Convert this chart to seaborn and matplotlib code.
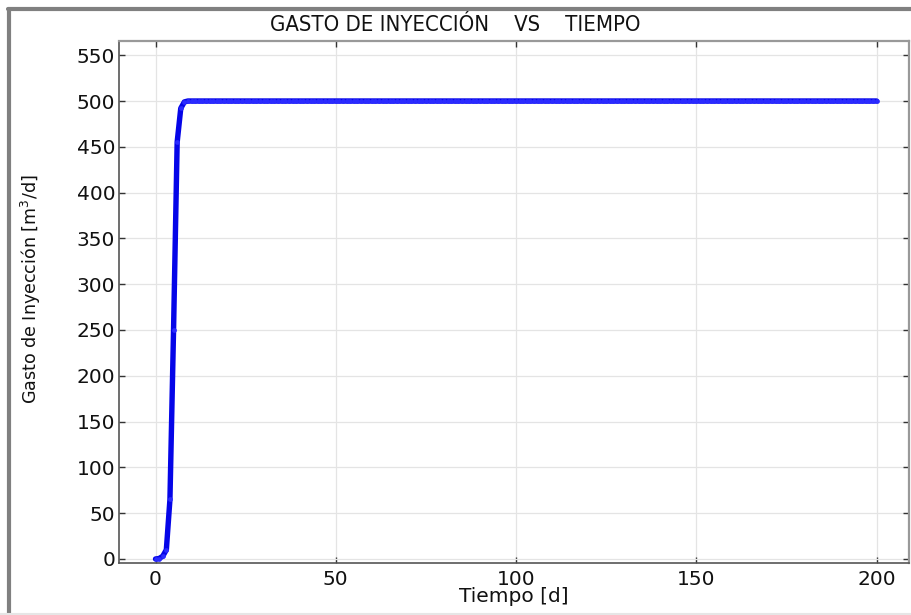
import matplotlib
matplotlib.use("Agg")
import matplotlib.pyplot as plt
from matplotlib.lines import Line2D
import seaborn as sns
import pandas as pd

# Injection rate ramp-up, then constant rate until day 200
ramp_days = [0, 1, 2, 3, 4, 5, 6, 7, 8, 9]
ramp_rate = [0, 0.5, 3, 10, 65, 250, 455, 492, 499, 500]
plateau_days = list(range(10, 201))
plateau_rate = [500] * len(plateau_days)

days = ramp_days + plateau_days
rate = ramp_rate + plateau_rate

x_ticks = [0, 50, 100, 150, 200]
y_ticks = [0, 50, 100, 150, 200, 250, 300, 350, 400, 450, 500, 550]

df = pd.DataFrame({"Tiempo": days, "Gasto": rate})

sns.set_theme(style="whitegrid")
plt.rcParams["font.family"] = ["DejaVu Sans"]

fig = plt.figure(figsize=(9.12, 6.15), dpi=100)
ax = fig.add_axes([0.131, 0.0841, 0.9967 - 0.131, 0.9333 - 0.0841])

sns.lineplot(data=df, x="Tiempo", y="Gasto", ax=ax, color="#0505e8",
             linewidth=3.9, marker="o", markersize=3.4, markeredgewidth=0,
             markerfacecolor="#2a2aff", zorder=3)

ax.set_xlim(-10, 209)
ax.set_ylim(-4.7, 565.5)
ax.set_xticks(x_ticks)
ax.set_yticks(y_ticks)

ax.grid(True, color="#e4e4e4", linewidth=0.9)
ax.tick_params(axis="both", which="both", direction="in", length=4, width=1,
               labelsize=14.5, colors="#333333", labelcolor="#111111",
               top=True, right=True, bottom=True, left=True)
ax.tick_params(axis="x", pad=5)
ax.tick_params(axis="y", pad=3)

for side in ["top", "right"]:
    ax.spines[side].set_color("#999999")
    ax.spines[side].set_linewidth(1.6)
for side in ["bottom", "left"]:
    ax.spines[side].set_color("#555555")
    ax.spines[side].set_linewidth(1.2)

ax.set_xlabel("Tiempo [d]", fontsize=14.5, color="#111111")
ax.set_ylabel("Gasto de Inyección [m$^3$/d]", fontsize=12.6, color="#111111")
ax.xaxis.set_label_coords(0.5, -0.046)
ax.yaxis.set_label_coords(-0.0965, 0.525)

fig.text(0.499, 0.959, "GASTO DE INYECCIÓN    VS    TIEMPO", ha="center",
         va="center", fontsize=15.8, fontstretch="condensed", color="#111111")

# Window frame along the left and top edges
fig.add_artist(Line2D([9.5 / 912, 9.5 / 912], [0, 1 - 9 / 615],
                      transform=fig.transFigure, color="#808080", linewidth=3))
fig.add_artist(Line2D([8 / 912, 1], [1 - 9 / 615, 1 - 9 / 615],
                      transform=fig.transFigure, color="#808080", linewidth=3))
fig.add_artist(Line2D([0, 1], [1.5 / 615, 1.5 / 615],
                      transform=fig.transFigure, color="#e6e6e6", linewidth=1.5))

fig.savefig("out.png", dpi=100)
